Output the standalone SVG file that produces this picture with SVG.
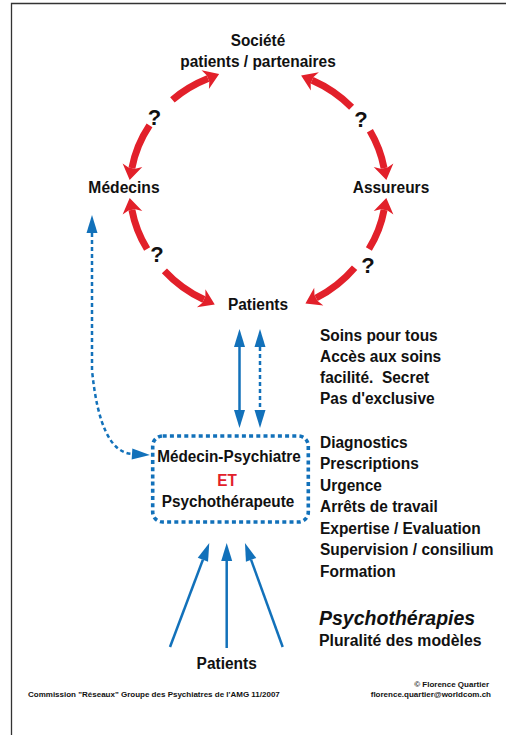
<svg xmlns="http://www.w3.org/2000/svg" width="506" height="735" viewBox="0 0 506 735">
<style>
text{font-family:"Liberation Sans",Arial,sans-serif;font-weight:bold;fill:#111}
.c{text-anchor:middle}
.m{font-size:17px}
.q{font-size:22px}
.r{font-size:17px}
.red{fill:none;stroke:#E2202A;stroke-width:7;stroke-linecap:butt}
.blue{fill:none;stroke:#1271BA;stroke-width:2.5}
.dash{stroke-dasharray:4 3}
.foot{font-size:8px}
</style>
<defs>
<marker id="rh" viewBox="-4 -11 17 22" markerWidth="17" markerHeight="22" refX="0" refY="0" orient="auto" markerUnits="userSpaceOnUse" overflow="visible">
<path d="M12,0 L-3,-10 L0,-3.5 L0,3.5 L-3,10 Z" fill="#E2202A"/>
</marker>
<marker id="bh" viewBox="0 -6 18 12" markerWidth="18" markerHeight="12" refX="0" refY="0" orient="auto-start-reverse" markerUnits="userSpaceOnUse" overflow="visible">
<path d="M0,-5.5 L18,0 L0,5.5 Z" fill="#1271BA"/>
</marker>
</defs>
<g id="frame">
<path d="M11.5,735 V3.5 H506" fill="none" stroke="#333" stroke-width="1.3"/>
</g>
<g id="connectors">
<path class="red" d="M172.4,99.8 A128,120 0 0 1 208,78.5" marker-end="url(#rh)"/>
<path class="red" d="M149.5,125.4 A128,120 0 0 0 131.9,168.2" marker-end="url(#rh)"/>
<path class="red" d="M147.1,249 A128,120 0 0 1 131.9,209.8" marker-end="url(#rh)"/>
<path class="red" d="M164.4,270.8 A128,122 0 0 0 203.9,299.5" marker-end="url(#rh)"/>
<path class="red" d="M351.6,107.2 A128,120 0 0 0 312.1,80.2" marker-end="url(#rh)"/>
<path class="red" d="M369.9,130.8 A128,120 0 0 1 384.1,168.2" marker-end="url(#rh)"/>
<path class="red" d="M368.9,249 A128,120 0 0 0 384.1,209.8" marker-end="url(#rh)"/>
<path class="red" d="M354.6,267.7 A128,122 0 0 1 316.1,298" marker-end="url(#rh)"/>
<text class="q c" x="154.5" y="125">?</text>
<text class="q c" x="157" y="261.5">?</text>
<text class="q c" x="361" y="126.5">?</text>
<text class="q c" x="368" y="273">?</text>
<path class="blue" d="M239.5,347 V410" marker-start="url(#bh)" marker-end="url(#bh)"/>
<path class="blue dash" d="M260,347 V410" marker-start="url(#bh)" marker-end="url(#bh)"/>
<path class="blue dash" d="M92,233 V370 Q100,452 132,454" marker-start="url(#bh)" marker-end="url(#bh)"/>
<path class="blue" d="M170,647 L202.9,559.8" marker-end="url(#bh)"/>
<path class="blue" d="M226.7,648 V561" marker-end="url(#bh)"/>
<path class="blue" d="M282.7,647 L251.1,559.9" marker-end="url(#bh)"/>
</g>
<g id="societe">
<text class="m c" x="258" y="46" transform="matrix(0.9 0 0 1 25.8 0)">Société</text>
<text class="m c" x="258" y="67" transform="matrix(0.91 0 0 1 23.22 0)">patients / partenaires</text>
</g>
<g id="medecins"><text class="m c" x="124" y="193" transform="matrix(0.92 0 0 1 9.92 0)">Médecins</text></g>
<g id="assureurs"><text class="m c" x="391" y="193" transform="matrix(0.91 0 0 1 35.19 0)">Assureurs</text></g>
<g id="patients-top"><text class="m c" x="258" y="310" transform="matrix(0.91 0 0 1 23.22 0)">Patients</text></g>
<g id="psychiatre">
<rect x="152.7" y="436" width="155.6" height="86" rx="10" fill="none" stroke="#1271BA" stroke-width="3.6" stroke-dasharray="4 3.2"/>
<text class="m c" x="229" y="462" transform="matrix(0.9 0 0 1 22.9 0)">Médecin-Psychiatre</text>
<text class="m c" x="227" y="486.5" transform="matrix(0.9 0 0 1 22.7 0)" style="fill:#E2202A">ET</text>
<text class="m c" x="228" y="507" transform="matrix(0.9 0 0 1 22.8 0)">Psychothérapeute</text>
</g>
<g id="patients-bottom"><text class="m c" x="226.7" y="669" transform="matrix(0.91 0 0 1 20.4 0)">Patients</text></g>
<g id="list1" transform="matrix(0.91 0 0 1 28.8 0)">
<text class="r" x="320" y="341">Soins pour tous</text>
<text class="r" x="320" y="362.5">Accès aux soins</text>
<text class="r" x="320" y="383.5">facilité.&#160; Secret</text>
<text class="r" x="320" y="404.5">Pas d'exclusive</text>
</g>
<g id="list2" transform="matrix(0.91 0 0 1 28.8 0)">
<text class="r" x="320" y="448">Diagnostics</text>
<text class="r" x="320" y="469.5">Prescriptions</text>
<text class="r" x="320" y="491">Urgence</text>
<text class="r" x="320" y="512.5">Arrêts de travail</text>
<text class="r" x="320" y="534">Expertise / Evaluation</text>
<text class="r" x="320" y="555.5">Supervision / consilium</text>
<text class="r" x="320" y="577">Formation</text>
</g>
<g id="psychotherapies" transform="matrix(0.93 0 0 1 22.33 0)">
<text x="319" y="625" style="font-size:21px;font-style:italic">Psychothérapies</text>
<text class="r" x="319" y="646.5">Pluralité des modèles</text>
</g>
<g id="footer">
<text class="foot" x="28" y="696.5">Commission "Réseaux" Groupe des Psychiatres de l'AMG 11/2007</text>
<text class="foot" x="489" y="686.5" style="text-anchor:end">© Florence Quartier</text>
<text class="foot" x="491" y="696.5" style="text-anchor:end">florence.quartier@worldcom.ch</text>
</g>
</svg>
